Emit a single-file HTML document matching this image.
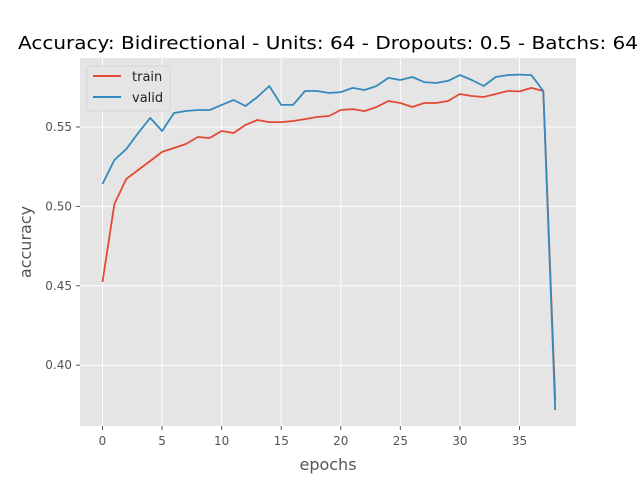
<!DOCTYPE html>
<html><head><meta charset="utf-8"><style>
body{margin:0;background:#fff;font-family:"Liberation Sans","DejaVu Sans",sans-serif}
svg text{font-family:"DejaVu Sans","Liberation Sans",sans-serif}
</style></head><body>
<svg id="chart" width="640" height="480">
<rect x="0" y="0" width="640" height="480" fill="#fff"/>
<rect x="80" y="58" width="496" height="368" fill="#e5e5e5"/>
<g id="grid"></g><g id="ticks"></g><g id="lines"></g>
<text x="328" y="49" text-anchor="middle" font-size="18" textLength="620" lengthAdjust="spacingAndGlyphs" fill="#000">Accuracy: Bidirectional - Units: 64 - Dropouts: 0.5 - Batchs: 64</text>
<text x="328" y="470" text-anchor="middle" font-size="16" fill="#555">epochs</text>
<text x="0" y="0" transform="translate(31,242) rotate(-90)" text-anchor="middle" font-size="16" fill="#555">accuracy</text>
<g>
<rect x="87" y="66" width="83" height="45" rx="3" fill="#e5e5e5" stroke="#ccc" stroke-width="0.8" opacity="0.9"/>
<g><line x1="93" y1="76" x2="121" y2="76" stroke="#e24a33" stroke-width="2"/><text x="132" y="81" font-size="13" fill="#222">train</text></g>
<g><line x1="93" y1="97" x2="121" y2="97" stroke="#348abd" stroke-width="2"/><text x="132" y="102" font-size="13" fill="#222">valid</text></g>
</g>
</svg>
<script>
const trainAcc=[0.4524,0.5015,0.5173,0.5229,0.5286,0.5343,0.5368,0.5393,0.5437,0.5431,0.5475,0.5462,0.5513,0.5544,0.5531,0.5531,0.5538,0.555,0.5563,0.5569,0.5607,0.5613,0.5600,0.5626,0.5664,0.5651,0.5626,0.5651,0.5651,0.5664,0.5708,0.5695,0.5689,0.5708,0.5727,0.5724,0.5746,0.5727,0.378];
const validAcc=[0.5141,0.5292,0.5361,0.5462,0.5557,0.5475,0.5588,0.5601,0.5607,0.5607,0.5639,0.567,0.5632,0.5689,0.5758,0.5639,0.5639,0.5727,0.5727,0.5714,0.572,0.5746,0.5733,0.5758,0.5809,0.5796,0.5815,0.5783,0.5777,0.579,0.5827,0.5796,0.5758,0.5815,0.5827,0.5830,0.5827,0.5727,0.3718];
const xTicks=[0,5,10,15,20,25,30,35];
const yTicks=[0.40,0.45,0.50,0.55];
const NS="http://www.w3.org/2000/svg";
function xs(v){return 102.5+v*11.914;}
function ys(v){return 127-(v-0.55)*1588;}
function mk(t,a,p){const e=document.createElementNS(NS,t);for(const k in a)e.setAttribute(k,a[k]);p.appendChild(e);return e;}
const grid=document.getElementById('grid'),ticks=document.getElementById('ticks'),lines=document.getElementById('lines');
xTicks.forEach(t=>{const x=xs(t);
const g=mk('line',{x1:x,x2:x,y1:58,y2:426,stroke:'#fff','stroke-width':1},grid);


mk('line',{x1:x,x2:x,y1:426,y2:430,stroke:'#555'},ticks);
const tx=mk('text',{x:x,y:445,'text-anchor':'middle','font-size':12,fill:'#555'},ticks);tx.textContent=t;

});
yTicks.forEach(t=>{const y=ys(t);
const g=mk('line',{x1:80,x2:576,y1:y,y2:y,stroke:'#fff','stroke-width':1},grid);


mk('line',{x1:76,x2:80,y1:y,y2:y,stroke:'#555'},ticks);
const tx=mk('text',{x:72,y:y+4,'text-anchor':'end','font-size':12,fill:'#555'},ticks);tx.textContent=t.toFixed(2);

});
function series(arr,color,name){const d=arr.map((v,i)=>(i?'L':'M')+xs(i).toFixed(1)+','+ys(v).toFixed(1)).join('');
const p=mk('path',{d:d,fill:'none',stroke:color,'stroke-width':1.8,'stroke-linejoin':'round'},lines);

}
series(trainAcc,'#e24a33','train-line');
series(validAcc,'#348abd','valid-line');
</script>
</body></html>
